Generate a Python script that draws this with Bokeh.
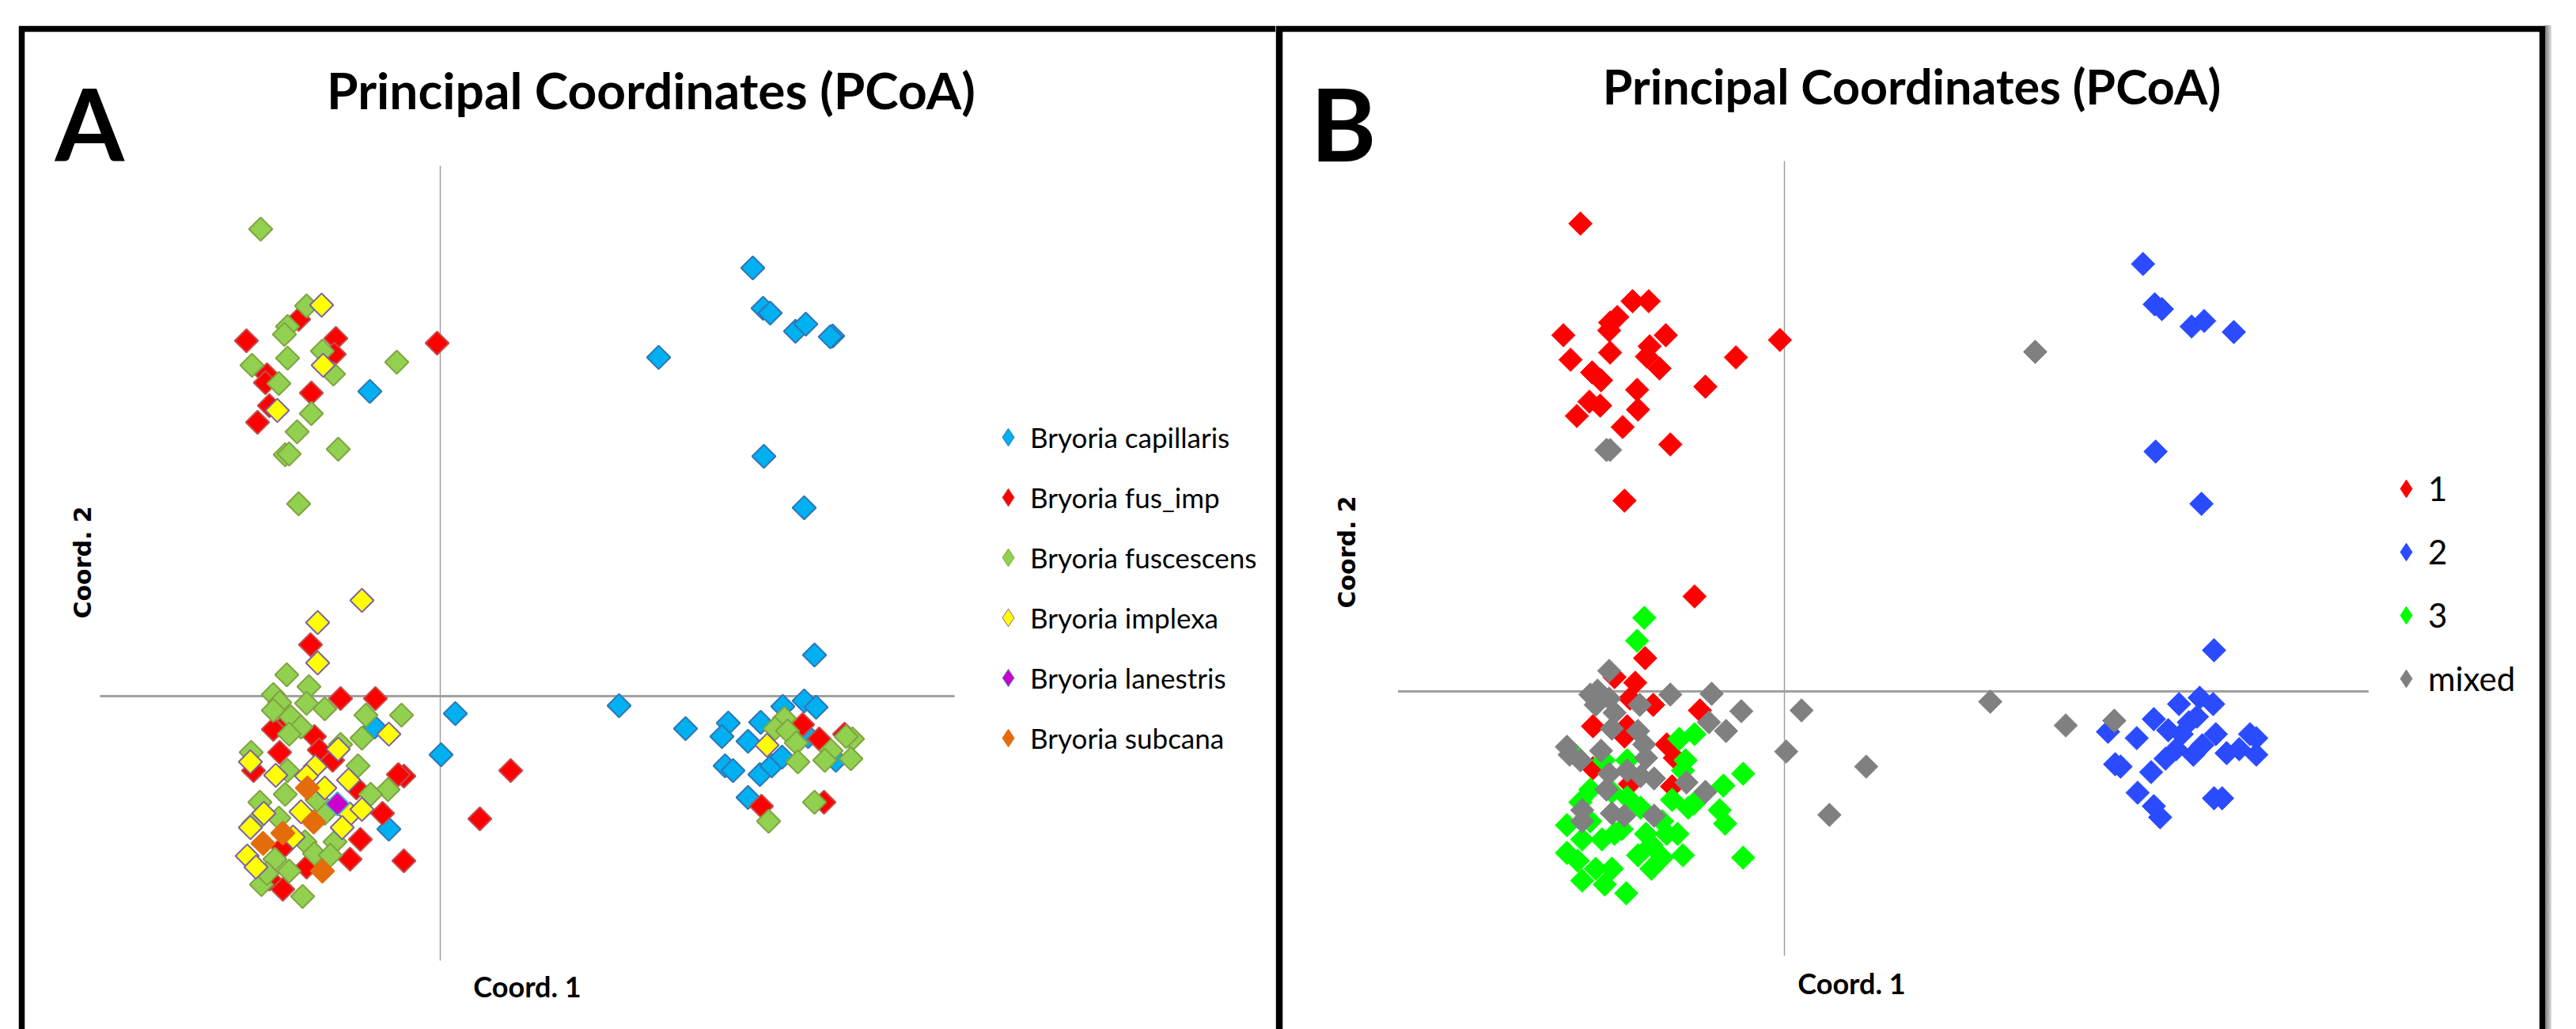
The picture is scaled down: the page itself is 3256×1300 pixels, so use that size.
import math
from bokeh.plotting import figure
from bokeh.models import Range1d, Label, Legend, LegendItem, Spacer
from bokeh.layouts import row, column
from bokeh.embed import file_html
from bokeh.resources import INLINE

# ---------------- Panel A : coloured by species (Coord. 1, Coord. 2) ----------------
capillaris_x = [-0.89, 3.95, 4.08, 4.17, 4.49, 4.62, 4.96, 4.93, 2.76, 4.09, 4.60, 4.73, 0.19, -0.83, 0.01, -0.65,
                2.26, 3.10, 3.64, 3.56, 4.05, 4.33, 4.60, 4.75, 3.89, 3.60, 3.70, 4.04, 4.19, 4.32, 3.89, 4.65, 5.00]
capillaris_y = [3.85, 5.41, 4.90, 4.84, 4.61, 4.70, 4.55, 4.54, 4.28, 3.03, 2.38, 0.52, -0.22, -0.39, -0.74, -1.68,
                -0.12, -0.41, -0.34, -0.51, -0.33, -0.13, -0.06, -0.14, -0.57, -0.88, -0.94, -0.99, -0.88, -0.77, -1.28, -0.51, -0.81]

fus_imp_x = [-1.79, -2.45, -1.32, -0.04, -1.34, -2.19, -2.21, -1.63, -2.16, -2.31,
             -1.64, -1.26, -0.82, -2.11, -1.59, -2.03, -1.53, -0.46, -0.53, 0.89,
             -1.06, -0.73, 0.50, -1.14, -0.46, -1.99, -1.69, -2.36, -1.99, -1.91,
             -1.36, -2.16, -1.01, 4.58, 4.79, 4.06, 4.85, 5.11]
fus_imp_y = [4.76, 4.49, 4.52, 4.46, 4.32, 4.06, 3.96, 3.83, 3.67, 3.46,
             0.65, -0.03, -0.03, -0.42, -0.51, -0.71, -0.68, -1.01, -0.99, -0.94,
             -1.16, -1.48, -1.55, -2.06, -2.08, -2.44, -2.16, -0.94, -1.91, -0.31,
             -0.81, -2.31, -1.81, -0.36, -0.54, -1.39, -1.34, -0.48]

fuscescens_x = [-2.27, -1.69, -1.93, -1.97, -1.49, -1.93, -2.38, -0.55, -1.35, -2.04, -1.63, -1.81, -1.96, -1.91, -1.29, -1.79,
                -1.94, -1.66, -2.11, -2.03, -1.69, -1.46, -2.11, -1.89, -0.94, -0.49,
                -1.76, -1.91, -0.99, -2.39, -1.04, -1.93, -0.66, -0.88, -1.96, -2.28,
                -1.46, -2.04, -1.33, -1.71, -1.59, -2.09, -1.91, -2.26, -1.74, -2.19,
                -1.39, -1.26, -2.36, -1.56,
                4.35, 4.23, 4.39, 4.50, 4.52, 4.94, 4.86, 5.21, 5.13, 5.19, 4.73, 4.15]
fuscescens_y = [5.90, 4.93, 4.67, 4.57, 4.36, 4.27, 4.18, 4.22, 4.07, 3.95, 3.57, 3.34, 3.05, 3.06, 3.12, 2.43,
                0.27, 0.12, 0.02, -0.08, -0.09, -0.16, -0.18, -0.26, -0.24, -0.24,
                -0.39, -0.48, -0.53, -0.71, -0.88, -0.94, -1.18, -1.24, -1.24, -1.34,
                -1.48, -1.54, -1.84, -1.84, -1.99, -2.06, -2.21, -2.38, -2.53, -2.24,
                -2.01, -0.61, -1.61, -1.31,
                -0.28, -0.41, -0.44, -0.59, -0.83, -0.69, -0.81, -0.54, -0.51, -0.79, -1.34, -1.58]

implexa_x = [-1.50, -1.48, -2.06, -0.99, -1.55, -1.55, -0.65, -1.29, -2.40, -2.08, -1.58, -1.69,
             -1.46, -1.16, -2.23, -1.76, -1.14, -0.99, -2.40, -1.24, -1.86, -2.44, -2.33, 4.13]
implexa_y = [4.94, 4.18, 3.61, 1.21, 0.93, 0.42, -0.48, -0.67, -0.83, -1.00, -0.89, -1.01,
             -1.16, -1.06, -1.48, -1.46, -1.49, -1.43, -1.66, -1.66, -1.78, -2.02, -2.16, -0.62]

lanestris_x = [-1.30]
lanestris_y = [-1.36]

subcana_x = [-1.68, -1.60, -1.99, -2.24, -1.49]
subcana_y = [-1.16, -1.59, -1.73, -1.86, -2.21]

species_labels = ["Bryoria capillaris", "Bryoria fus_imp", "Bryoria fuscescens",
                  "Bryoria implexa", "Bryoria lanestris", "Bryoria subcana"]

# ---------------- Panel B : coloured by cluster ----------------
cluster1_x = [-2.27, -1.69, -1.51, -1.86, -1.94, -1.95, -2.46, -1.32, -0.05, -1.50,
              -1.53, -1.94, -2.38, -1.39, -0.54, -2.14, -2.04, -0.88, -1.64, -2.17,
              -2.05, -1.63, -2.31, -1.80, -1.27, -1.78,
              -1.00, -1.55, -1.66, -1.72, -1.46, -0.94, -2.13, -1.75, -1.78, -1.31,
              -1.22, -2.13, -1.89, -1.72, -1.25]
cluster1_y = [5.91, 4.93, 4.93, 4.73, 4.66, 4.56, 4.50, 4.50, 4.44, 4.36,
              4.23, 4.28, 4.19, 4.08, 4.22, 4.03, 3.93, 3.85, 3.81, 3.66,
              3.61, 3.56, 3.48, 3.34, 3.12, 2.41,
              1.20, 0.42, 0.11, -0.09, -0.17, -0.24, -0.44, -0.44, -0.57, -0.67,
              -0.84, -0.97, 0.18, -1.17, -1.20]

cluster2_x = [3.99, 4.12, 4.20, 4.53, 4.67, 5.00, 4.13, 4.64, 4.78, 3.60,
              3.68, 3.74, 3.92, 4.11, 4.08, 3.93, 4.11, 4.18, 4.39, 4.62,
              4.77, 4.27, 4.50, 4.59, 4.36, 4.24, 4.55, 4.80, 4.92, 5.06,
              5.18, 5.25, 5.25, 4.78, 4.87, 4.42, 4.65]
cluster2_y = [5.40, 4.89, 4.83, 4.61, 4.68, 4.54, 3.03, 2.37, 0.52, -0.51,
              -0.92, -0.95, -0.59, -0.35, -1.02, -1.28, -1.45, -1.59, -0.16, -0.08,
              -0.16, -0.49, -0.39, -0.32, -0.73, -0.85, -0.80, -0.54, -0.78, -0.73,
              -0.54, -0.59, -0.80, -1.35, -1.35, -0.54, -0.68]

cluster3_x = [-1.56, -1.64, -1.17, -1.00, -1.10, -2.33, -0.46, -0.68, -0.72, -0.66,
              -1.01, -1.13, -2.27, -2.42, -2.16, -2.25, -2.42, -2.30, -2.25, -2.00,
              -2.10, -1.92, -2.03, -1.89, -1.81, -1.63, -1.48, -1.36, -1.48, -1.31,
              -1.13, -1.76, -0.46, -1.25, -1.07, -1.75, -1.60, -1.92, -2.16, -1.75,
              -2.01, -1.36, -1.19, -1.54]
cluster3_y = [0.93, 0.64, -0.60, -0.54, -0.87, -0.80, -1.04, -1.19, -1.50, -1.67,
              -1.42, -1.00, -1.40, -1.69, -1.64, -1.87, -2.04, -2.14, -2.39, -2.44,
              -2.24, -2.24, -1.87, -1.80, -1.74, -2.07, -2.24, -2.10, -1.94, -1.80,
              -2.07, -2.55, -2.10, -1.37, -1.47, -1.34, -1.47, -1.27, -1.24, -0.87,
              -0.87, -1.64, -1.80, -1.80]

mixed_x = [-1.94, -1.98, -1.95, -2.08, -2.16, -1.95, -2.10, -1.89, -1.61, -1.27,
           -0.81, -0.48, -0.84, -0.65, -1.92, -1.63, -1.56, -1.54, -2.42, -2.39,
           -2.27, -2.04, -1.95, -1.75, -1.60, -1.45, -1.98, -1.09, -0.88, -2.25,
           -1.92, -1.78, -1.45, -2.25, 0.19, 0.02, 0.91, 0.50, 2.79, 2.29,
           3.13, 3.67]
mixed_y = [3.05, 3.05, 0.26, 0.01, -0.04, -0.09, -0.17, -0.27, -0.17, -0.04,
           -0.03, -0.25, -0.39, -0.50, -0.47, -0.50, -0.67, -0.84, -0.70, -0.80,
           -0.87, -0.75, -1.04, -1.00, -1.07, -1.10, -1.24, -1.15, -1.27, -1.50,
           -1.54, -1.57, -1.57, -1.64, -0.24, -0.76, -0.95, -1.56, 4.29, -0.13,
           -0.43, -0.37]

cluster_labels = ["1", "2", "3", "mixed"]

# extent of the two reference axes drawn through the origin
axis_x_extent = [-4.30, 6.50]
axis_y_extent = [-3.34, 6.70]

TITLE = "Principal Coordinates (PCoA)"
DIAMOND = math.pi / 4
FIG_H = 1268
KEY = 56   # legend glyph box (px)


def base_fig(width, xr, yr, left_border, right_border):
    p = figure(width=width, height=FIG_H, x_range=Range1d(*xr), y_range=Range1d(*yr),
               x_axis_location=None, y_axis_location=None, title=None,
               toolbar_location=None, output_backend="svg",
               min_border_left=left_border, min_border_right=right_border,
               min_border_top=8, min_border_bottom=0)
    p.border_fill_color = "black"
    p.background_fill_color = "white"
    p.outline_line_color = None
    p.grid.visible = False
    p.segment(x0=[axis_x_extent[0]], y0=[0], x1=[axis_x_extent[1]], y1=[0],
              line_color="#A0A0A0", line_width=3)
    p.segment(x0=[0], y0=[axis_y_extent[0]], x1=[0], y1=[axis_y_extent[1]],
              line_color="#A0A0A0", line_width=1.5)
    return p


def add_text(p, x, y, text, size, font="Lato", bold=True, align="center", angle=0.0):
    p.add_layout(Label(x=x, y=y, text=text, text_font=font,
                       text_font_style="bold" if bold else "normal",
                       text_font_size=size, text_align=align,
                       text_baseline="middle", text_color="black", angle=angle))


def make_legend(items, loc, spacing, font_size):
    return Legend(items=items, location=loc, orientation="vertical",
                  border_line_color=None, background_fill_alpha=0, padding=0, margin=0,
                  spacing=spacing, glyph_width=KEY, glyph_height=KEY, label_height=KEY,
                  label_standoff=0, label_text_font="Lato",
                  label_text_font_size=font_size, label_text_color="black")


def add_series(p, xs, ys, fill, line, lw):
    # legend key: a diamond drawn (tiny, hidden below) at the first point of the series
    key = p.scatter(xs[:1], ys[:1], marker="diamond", size=1,
                    fill_color=fill, line_color=line, line_width=1)
    p.scatter(xs, ys, marker="square", angle=DIAMOND, size=21,
              fill_color=fill, line_color=line, line_width=lw)
    return key


# ---------------- Panel A ----------------
pA = base_fig(1589, (-5.25, 10.56), (-4.21, 8.39), 8, 0)
a_series = [
    (capillaris_x, capillaris_y, "#00B0F0", "#2E75B6"),
    (fus_imp_x, fus_imp_y, "#FF0000", "#C0504D"),
    (fuscescens_x, fuscescens_y, "#92D050", "#7FA340"),
    (implexa_x, implexa_y, "#FFFF00", "#7A5FA8"),
    (lanestris_x, lanestris_y, "#CC00CC", "#4BACC6"),
    (subcana_x, subcana_y, "#E46C0A", "#E46C0A"),
]
a_items = []
for (xs, ys, fill, line), lab in zip(a_series, species_labels):
    key = add_series(pA, xs, ys, fill, line, 2)
    a_items.append(LegendItem(label=lab, renderers=[key]))
pA.add_layout(make_legend(a_items, (1215, 340), 20, "35px"))
add_text(pA, 2.665, 7.664, TITLE, "64px")
add_text(pA, -4.87, 7.238, "A", "126px", align="left")
add_text(pA, 1.10, -3.666, "Coord. 1", "36px")
add_text(pA, -4.524, 1.69, "Coord. 2", "30px", font="DejaVu Sans", angle=math.pi / 2)

# ---------------- Panel B ----------------
pB = base_fig(1605, (-5.581, 8.398), (-4.27, 8.33), 9, 8)
b_series = [
    (cluster1_x, cluster1_y, "#FF0000"),
    (cluster2_x, cluster2_y, "#2A4BFF"),
    (cluster3_x, cluster3_y, "#00FF00"),
    (mixed_x, mixed_y, "#808080"),
]
b_items = []
for (xs, ys, col), lab in zip(b_series, cluster_labels):
    key = add_series(pB, xs, ys, col, col, 1)
    b_items.append(LegendItem(label=lab, renderers=[key]))
pB.add_layout(make_legend(b_items, (1392, 415), 24, "42px"))
add_text(pB, 1.417, 7.652, TITLE, "61px")
add_text(pB, -5.273, 7.178, "B", "126px", align="left")
add_text(pB, 0.748, -3.681, "Coord. 1", "36px")
add_text(pB, -4.871, 1.76, "Coord. 2", "30px", font="DejaVu Sans", angle=math.pi / 2)

shadow = Spacer(width=8, height=FIG_H,
                styles={"background": "linear-gradient(to right, #7a7a7a, #e0e0e0)"})

layout = column(Spacer(height=32), row(Spacer(width=23), pA, pB, shadow))

with open("out.html", "w") as f:
    f.write(file_html(layout, INLINE))
